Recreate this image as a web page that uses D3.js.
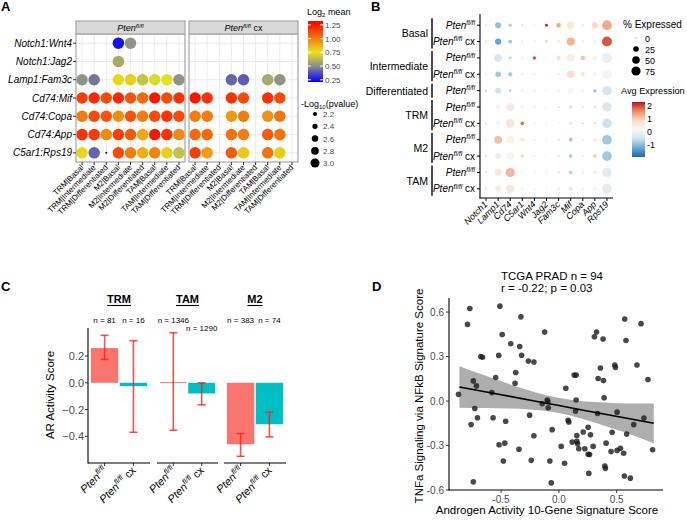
<!DOCTYPE html>
<meta charset='utf-8'>
<head>
  <title>Ligand-receptor and AR activity</title>
</head>

<style>
body {
  margin: 0;
  background: #fff;
  font-family: "Liberation Sans", Arial, Helvetica, sans-serif;
}
text {
  fill: #000;
}
.tick-label {
  fill: #4d4d4d;
}
.panel-label {
  font-weight: bold;
  font-size: 13px;
}
</style>

<body>
  <svg width='687' height='520'></svg>

  <script src='https://cdn.jsdelivr.net/npm/d3@7'></script>
  <script>
// ---------- panel A data ----------
var pairsA = ['Notch1:Wnt4', 'Notch1:Jag2', 'Lamp1:Fam3c', 'Cd74:Mif', 'Cd74:Copa', 'Cd74:App', 'C5ar1:Rps19'];
var clustersA = ['TRM|Basal', 'TRM|Intermediate', 'TRM|Differentiated', 'M2|Basal', 'M2|Intermediate',
  'M2|Differentiated', 'TAM|Basal', 'TAM|Intermediate', 'TAM|Differentiated'];
// log2 mean, Pten fl/fl
var meanFl = [
  [null, null, null, 0.25, 0.52, null, null, null, null],
  [null, null, null, 0.58, null, null, null, null, null],
  [0.52, 0.45, null, 0.78, 0.8, 0.66, 0.72, 0.74, 0.52],
  [1.15, 1.2, 1.12, 1.2, 1.1, 1.05, 1.24, 1.12, 1.18],
  [1.0, 1.12, 1.1, 0.96, 1.1, 1.0, 1.12, 1.18, 1.12],
  [1.18, 1.16, 0.97, 1.15, 1.08, 0.9, 1.24, 1.18, 0.97],
  [0.78, 0.42, 0.25, 1.12, 1.0, 0.88, 0.98, 0.8, 0.65]
];
// log2 mean, Pten fl/fl cx
var meanCx = [
  [null, null, null, null, null, null, null, null, null],
  [null, null, null, null, null, null, null, null, null],
  [null, null, null, 0.42, 0.4, null, 0.58, 0.52, null],
  [1.25, 1.18, null, 1.18, 1.12, null, 1.18, 1.12, null],
  [1.0, 1.0, null, 0.93, 1.0, null, 0.95, 1.02, null],
  [1.05, 1.05, null, 1.02, 1.0, null, 1.08, 1.02, null],
  [1.15, 0.92, null, 1.08, 0.82, null, 1.02, 0.8, null]
];
// -log10(pvalue)
var pvalFl = [
  [null, null, null, 3.4, 3.4, null, null, null, null],
  [null, null, null, 3.4, null, null, null, null, null],
  [3.4, 3.4, null, 3.4, 3.4, 3.4, 3.4, 3.4, 3.4],
  [3.4, 3.4, 3.4, 3.4, 3.4, 3.4, 3.4, 3.4, 3.4],
  [3.4, 3.4, 3.4, 3.4, 3.4, 3.4, 3.4, 3.4, 3.4],
  [3.4, 3.4, 3.4, 3.4, 3.4, 3.4, 3.4, 3.4, 3.4],
  [3.4, 3.4, 1.9, 3.4, 3.4, 3.4, 3.4, 3.4, 3.4]
];
var pvalCx = [
  [null, null, null, null, null, null, null, null, null],
  [null, null, null, null, null, null, null, null, null],
  [null, null, null, 3.4, 3.4, null, 3.4, 3.4, null],
  [3.4, 3.4, null, 3.4, 3.4, null, 3.4, 3.4, null],
  [3.4, 3.4, null, 3.4, 3.4, null, 3.4, 3.4, null],
  [3.4, 3.4, null, 3.4, 3.4, null, 3.4, 3.4, null],
  [3.4, 3.4, null, 3.4, 3.4, null, 3.4, 3.4, null]
];
var meanTicks = [0.25, 0.5, 0.75, 1.0, 1.25];
var pvalTicks = [2.2, 2.4, 2.6, 2.8, 3.0];

// ---------- panel B data ----------
var genesB = ['Notch1', 'Lamp1', 'Cd74', 'C5ar1', 'Wnt4', 'Jag2', 'Fam3c', 'Mif', 'Copa', 'App', 'Rps19'];
var rowsB = ['Basal|fl', 'Basal|cx', 'Intermediate|fl', 'Intermediate|cx', 'Differentiated|fl',
  'TRM|fl', 'TRM|cx', 'M2|fl', 'M2|cx', 'TAM|fl', 'TAM|cx'];
var pctB = [
  [3, 30, 8, 3, 2, 5, 15, 50, 5, 30, 88],
  [3, 32, 10, 2, 3, 3, 8, 60, 3, 15, 92],
  [2, 48, 5, 2, 8, 2, 12, 50, 15, 22, 88],
  [2, 25, 15, 2, 3, 2, 3, 50, 10, 14, 85],
  [2, 28, 5, 2, 2, 2, 2, 28, 5, 8, 80],
  [2, 20, 65, 3, 2, 2, 3, 8, 3, 3, 80],
  [2, 15, 65, 10, 2, 2, 2, 10, 3, 3, 80],
  [3, 55, 50, 12, 2, 2, 3, 10, 3, 10, 85],
  [3, 30, 55, 10, 2, 2, 3, 10, 3, 10, 85],
  [2, 35, 75, 3, 2, 2, 3, 12, 3, 5, 82],
  [2, 30, 65, 8, 2, 2, 3, 15, 3, 5, 82]
];
var expB = [
  [0.5, -1.0, -0.8, -0.3, 0.1, 2.2, 1.3, 0.6, -0.3, 0.9, 1.3],
  [0.8, -1.3, -0.9, -0.2, 0.4, 1.0, 0.4, 1.2, -0.2, 0.1, 1.9],
  [0.1, -0.5, -0.7, -0.2, 1.9, 0.1, 0.8, 0.4, 1.1, 0.3, -0.2],
  [-0.3, -0.9, -0.8, -0.3, 0.2, 0.1, 0.2, 0.8, 0.7, 0.2, 0.05],
  [-0.7, -0.6, -0.7, -0.2, -0.1, 0.0, 0.0, 0.2, 0.1, -0.9, -0.5],
  [0.1, 0.3, 0.5, -0.1, -0.2, -0.1, -0.5, -0.5, -0.3, -0.5, -0.4],
  [-0.6, 0.05, 0.6, 1.7, -0.1, 0.0, -0.1, -0.3, -0.5, -0.6, -0.6],
  [0.4, 1.1, 0.3, 0.6, -0.1, 0.0, -0.4, -0.9, -0.2, 0.4, -0.9],
  [0.9, 0.5, 0.05, 0.9, -0.1, 0.1, -0.4, -0.8, 0.3, 1.0, -0.9],
  [-0.4, 0.6, 1.2, 0.1, -0.1, -0.1, -0.4, -0.7, -0.2, -0.3, -0.3],
  [-0.4, 0.5, 0.6, 0.3, -0.1, -0.1, -0.4, -0.3, -0.2, -0.1, -0.3]
];
var pctTicks = [0, 25, 50, 75];
var expTicks = [-1, 0, 1, 2];

// ---------- panel C data ----------
var cellsC = ['TRM', 'TAM', 'M2'];
var genoC = ['fl', 'cx'];
var meanC = [[0.26, -0.025], [0.005, -0.08], [-0.46, -0.31]];
var loC = [[0.175, -0.37], [-0.355, -0.165], [-0.55, -0.405]];
var hiC = [[0.355, 0.315], [0.375, 0.0], [-0.38, -0.22]];
var nC = [[81, 16], [1346, 1290], [383, 74]];
var ticksC = [-0.4, -0.2, 0.0, 0.2];

// ---------- panel D data ----------
var xD = [-0.77, -0.79, -0.51, -0.49, -0.52, -0.675, -0.66, -0.546, -0.74, -0.713, -0.868, -0.58, -0.727, -0.704,
  -0.569, -0.759, -0.46, -0.517, -0.468, -0.48, -0.74, -0.416,
  -0.328, -0.339, -0.322, -0.264, -0.216, -0.373, -0.379, -0.123, -0.253, -0.144, -0.101, -0.095, -0.092,
  -0.058, -0.216, -0.345, -0.239, -0.078, -0.066,
  0.02, 0.049, 0.06, 0.08, 0.086, 0.132, 0.149, 0.149, 0.144, 0.155, 0.115, 0.155, 0.161, 0.172, 0.21, 0.253,
  0.273, 0.224, 0.253, 0.265, 0.296, 0.259, 0.325, 0.307, 0.382, 0.359, 0.339, 0.385, 0.391, 0.334, 0.408,
  0.397, 0.402, 0.483, 0.489, 0.503, 0.46, 0.451, 0.503, 0.532, 0.56, 0.586, 0.569, 0.58, 0.71, 0.675, 0.77,
  0.647, 0.735, 0.81, 0.566, 0.618];
var yD = [0.624, 0.517, 0.64, 0.449, 0.308, 0.30, 0.295, 0.159, 0.136, 0.102, 0.045, 0.057, -0.05, -0.113,
  -0.113, -0.159, -0.136, -0.295, -0.284, -0.404, -0.545, 0.386,
  0.568, 0.368, 0.309, 0.27, 0.263, 0.193, 0.12, 0.466, -0.095, -0.018, 0.007, -0.005, -0.045,
  -0.193, -0.234, -0.325, -0.40, -0.404, -0.552,
  -0.306, -0.42, 0.086, -0.13, -0.141, 0.175, 0.175, 0.007, -0.068, -0.232, -0.277, -0.272, -0.288, -0.322,
  -0.209, -0.177, -0.227, -0.322, -0.359, -0.361, -0.306, -0.488, 0.466, 0.434, 0.418, 0.223, 0.152, 0.138,
  0.022, -0.084, -0.284, -0.438, -0.454, 0.243, 0.227, -0.075, -0.211, -0.34, -0.333, -0.318, -0.352, -0.223,
  0.553, 0.408, 0.522, 0.243, 0.145, -0.159, -0.114, -0.329, -0.506, -0.52];
// linear fit and its confidence band
var fitX = [-0.86, -0.65, -0.4, -0.2, 0, 0.2, 0.4, 0.6, 0.82];
var fitY = [0.095, 0.064, 0.028, -0.001, -0.030, -0.060, -0.089, -0.118, -0.150];
var fitLo = [-0.045, -0.047, -0.051, -0.060, -0.080, -0.119, -0.168, -0.219, -0.284];
var fitHi = [0.235, 0.175, 0.107, 0.058, 0.020, -0.001, -0.010, -0.017, -0.016];
var xTicksD = [-0.5, 0, 0.5];
var yTicksD = [-0.6, -0.3, 0, 0.3, 0.6];

var svg = d3.select('svg');
var defs = svg.append('defs');

// "Pten fl/fl" with superscript, optional " cx"
function pten(t, cx, size) {
  t.append('tspan').attr('font-style', 'italic').text('Pten');
  t.append('tspan').attr('font-style', 'italic').attr('font-size', size * 0.68)
    .attr('dy', -size * 0.38).text('fl/fl');
  if (cx) t.append('tspan').attr('dy', size * 0.38).text(' cx');
}

function panelLabel(x, y, s) {
  svg.append('text').attr('class', 'panel-label').attr('x', x).attr('y', y).text(s);
}

// ================= Panel A =================
panelLabel(1, 11, 'A');
var gA = svg.append('g');
var yA = d3.scalePoint().domain(pairsA).range([34, 162]).padding(0.5);
var colA = d3.scaleLinear().domain([0.21, 0.5, 0.75, 1.3])
  .range(['#0000ff', '#8c8c8c', '#e8e41c', '#ff0000']).clamp(true);
var rA = d3.scaleLinear().domain([2.2, 3.0]).range([2, 4.5]);

var facetsA = [
  {cx: false, mean: meanFl, pval: pvalFl, x0: 76, x1: 185},
  {cx: true, mean: meanCx, pval: pvalCx, x0: 189, x1: 298}
];

facetsA.forEach(function(f) {
  var xA = d3.scalePoint().domain(clustersA).range([f.x0, f.x1]).padding(0.5);
  var g = gA.append('g');

  g.selectAll('.vg').data(clustersA).enter().append('line')
    .attr('x1', function(d) { return xA(d); }).attr('x2', function(d) { return xA(d); })
    .attr('y1', 34).attr('y2', 162).attr('stroke', '#ebebeb');
  g.selectAll('.hg').data(pairsA).enter().append('line')
    .attr('x1', f.x0).attr('x2', f.x1)
    .attr('y1', function(d) { return yA(d); }).attr('y2', function(d) { return yA(d); })
    .attr('stroke', '#ebebeb');

  var cells = [];
  pairsA.forEach(function(p, i) {
    clustersA.forEach(function(c, j) {
      if (f.mean[i][j] !== null) cells.push({p: p, c: c, m: f.mean[i][j], v: f.pval[i][j]});
    });
  });
  g.selectAll('circle').data(cells).enter().append('circle')
    .attr('cx', function(d) { return xA(d.c); })
    .attr('cy', function(d) { return yA(d.p); })
    .attr('r', function(d) { return rA(d.v); })
    .attr('fill', function(d) { return colA(d.m); });

  g.append('rect').attr('x', f.x0).attr('y', 34).attr('width', f.x1 - f.x0).attr('height', 128)
    .attr('fill', 'none').attr('stroke', '#a6a6a6').attr('stroke-width', 1.2);
  g.append('rect').attr('x', f.x0).attr('y', 21).attr('width', f.x1 - f.x0).attr('height', 13)
    .attr('fill', '#d9d9d9').attr('stroke', '#a6a6a6').attr('stroke-width', 1.2);
  pten(g.append('text').attr('x', (f.x0 + f.x1) / 2).attr('y', 31).attr('text-anchor', 'middle')
    .attr('font-size', 9), f.cx, 9);

  // x ticks and rotated labels
  g.selectAll('.xt').data(clustersA).enter().append('line')
    .attr('x1', function(d) { return xA(d); }).attr('x2', function(d) { return xA(d); })
    .attr('y1', 162).attr('y2', 165).attr('stroke', '#333');
  g.selectAll('.xl').data(clustersA).enter().append('text')
    .attr('transform', function(d) { return 'translate(' + (xA(d) + 2) + ',168) rotate(-45)'; })
    .attr('text-anchor', 'end').attr('font-size', 8).attr('fill', '#333')
    .text(function(d) { return d; });
});

gA.selectAll('.yt').data(pairsA).enter().append('line')
  .attr('x1', 73).attr('x2', 76)
  .attr('y1', function(d) { return yA(d); }).attr('y2', function(d) { return yA(d); })
  .attr('stroke', '#333');
gA.selectAll('.yl').data(pairsA).enter().append('text')
  .attr('x', 72).attr('y', function(d) { return yA(d) + 3.5; })
  .attr('text-anchor', 'end').attr('font-size', 10).attr('font-style', 'italic')
  .text(function(d) { return d; });

// legend A: colour bar
var barA = d3.scaleLinear().domain([0.21, 1.32]).range([82, 21]);
var gradA = defs.append('linearGradient').attr('id', 'gradA')
  .attr('x1', 0).attr('y1', 1).attr('x2', 0).attr('y2', 0);
d3.range(0, 1.0001, 0.05).forEach(function(t) {
  gradA.append('stop').attr('offset', t).attr('stop-color', colA(0.21 + t * 1.11));
});
var legA = svg.append('g');
var tA = legA.append('text').attr('x', 307).attr('y', 15).attr('font-size', 9);
tA.append('tspan').text('Log');
tA.append('tspan').attr('font-size', 6).attr('dy', 2).text('2');
tA.append('tspan').attr('dy', -2).text(' mean');
legA.append('rect').attr('x', 308).attr('y', 21).attr('width', 15).attr('height', 61)
  .attr('fill', 'url(#gradA)');
legA.selectAll('.ct').data(meanTicks).enter().append('line')
  .attr('x1', 308).attr('x2', 311).attr('y1', function(d) { return barA(d); })
  .attr('y2', function(d) { return barA(d); }).attr('stroke', '#fff');
legA.selectAll('.ct2').data(meanTicks).enter().append('line')
  .attr('x1', 320).attr('x2', 323).attr('y1', function(d) { return barA(d); })
  .attr('y2', function(d) { return barA(d); }).attr('stroke', '#fff');
legA.selectAll('.cl').data(meanTicks).enter().append('text')
  .attr('x', 325).attr('y', function(d) { return barA(d) + 3; })
  .attr('font-size', 8).attr('class', 'tick-label')
  .text(function(d) { return d3.format('.2f')(d); });

// legend A: size
var tP = legA.append('text').attr('x', 301).attr('y', 107).attr('font-size', 9);
tP.append('tspan').text('-Log');
tP.append('tspan').attr('font-size', 6).attr('dy', 2).text('10');
tP.append('tspan').attr('dy', -2).text('(pvalue)');
var sizeY = d3.scalePoint().domain(pvalTicks).range([114, 163]);
legA.selectAll('.sc').data(pvalTicks).enter().append('circle')
  .attr('cx', 315).attr('cy', function(d) { return sizeY(d); })
  .attr('r', function(d) { return rA(d); }).attr('fill', '#000');
legA.selectAll('.sl').data(pvalTicks).enter().append('text')
  .attr('x', 323).attr('y', function(d) { return sizeY(d) + 3; })
  .attr('font-size', 8).attr('class', 'tick-label')
  .text(function(d) { return d3.format('.1f')(d); });

// ================= Panel B =================
panelLabel(371, 11, 'B');
var gB = svg.append('g');
var xB = d3.scalePoint().domain(genesB).range([480, 613]).padding(0.5);
var yB = d3.scalePoint().domain(rowsB).range([17, 197]).padding(0.5);
var rB = d3.scaleSqrt().domain([0, 100]).range([0.4, 5.2]);
var rdbu = ['#2166ac', '#67a9cf', '#d1e5f0', '#f7f7f7', '#fddbc7', '#ef8a62', '#b2182b'];
var expLo = -2.0, expHi = 2.3;
var colB = d3.scaleLinear()
  .domain(rdbu.map(function(c, i) { return expLo + i * (expHi - expLo) / (rdbu.length - 1); }))
  .range(rdbu).clamp(true);

var cellsB = [];
rowsB.forEach(function(r, i) {
  genesB.forEach(function(gn, j) {
    cellsB.push({r: r, g: gn, p: pctB[i][j], e: expB[i][j]});
  });
});
gB.selectAll('circle').data(cellsB).enter().append('circle')
  .attr('cx', function(d) { return xB(d.g); })
  .attr('cy', function(d) { return yB(d.r); })
  .attr('r', function(d) { return rB(d.p); })
  .attr('fill', function(d) { return colB(d.e); });

gB.append('line').attr('x1', 480).attr('x2', 480).attr('y1', 14).attr('y2', 198.5)
  .attr('stroke', '#000').attr('stroke-width', 1.1);
gB.append('line').attr('x1', 479.5).attr('x2', 613).attr('y1', 198).attr('y2', 198)
  .attr('stroke', '#000').attr('stroke-width', 1.1);
gB.selectAll('.yt').data(rowsB).enter().append('line')
  .attr('x1', 477).attr('x2', 480)
  .attr('y1', function(d) { return yB(d); }).attr('y2', function(d) { return yB(d); })
  .attr('stroke', '#000');
gB.selectAll('.xt').data(genesB).enter().append('line')
  .attr('x1', function(d) { return xB(d); }).attr('x2', function(d) { return xB(d); })
  .attr('y1', 198).attr('y2', 201).attr('stroke', '#000');
gB.selectAll('.yl').data(rowsB).enter().append('text')
  .attr('x', 475).attr('y', function(d) { return yB(d) + 3.5; })
  .attr('text-anchor', 'end').attr('font-size', 10)
  .each(function(d) { pten(d3.select(this), d.split('|')[1] === 'cx', 10); });
gB.selectAll('.xl').data(genesB).enter().append('text')
  .attr('transform', function(d) { return 'translate(' + (xB(d) + 2) + ',205) rotate(-45)'; })
  .attr('text-anchor', 'end').attr('font-size', 9).attr('font-style', 'italic')
  .text(function(d) { return d; });

// group brackets
var groupsB = [];
rowsB.forEach(function(r) {
  var gname = r.split('|')[0];
  var last = groupsB[groupsB.length - 1];
  if (last && last.name === gname) last.rows.push(r);
  else groupsB.push({name: gname, rows: [r]});
});
groupsB.forEach(function(gr) {
  var y0 = yB(gr.rows[0]) - 7, y1 = yB(gr.rows[gr.rows.length - 1]) + 7;
  gB.append('line').attr('x1', 432).attr('x2', 432).attr('y1', y0).attr('y2', y1)
    .attr('stroke', '#000').attr('stroke-width', 1.4);
  gB.append('text').attr('x', 428).attr('y', (y0 + y1) / 2 + 4)
    .attr('text-anchor', 'end').attr('font-size', 10.5).text(gr.name);
});

// legend B
var legB = svg.append('g');
legB.append('text').attr('x', 623).attr('y', 28).attr('font-size', 10).text('% Expressed');
var pctY = d3.scalePoint().domain(pctTicks).range([38, 71]);
legB.selectAll('.sc').data(pctTicks).enter().append('circle')
  .attr('cx', 636).attr('cy', function(d) { return pctY(d); })
  .attr('r', function(d) { return rB(d); }).attr('fill', '#000');
legB.selectAll('.sl').data(pctTicks).enter().append('text')
  .attr('x', 645).attr('y', function(d) { return pctY(d) + 3.5; })
  .attr('font-size', 9).text(function(d) { return d; });

legB.append('text').attr('x', 621).attr('y', 94).attr('font-size', 9.2).text('Avg Expression');
var barB = d3.scaleLinear().domain([expLo, expHi]).range([157, 102]);
var gradB = defs.append('linearGradient').attr('id', 'gradB')
  .attr('x1', 0).attr('y1', 1).attr('x2', 0).attr('y2', 0);
d3.range(0, 1.0001, 0.05).forEach(function(t) {
  gradB.append('stop').attr('offset', t).attr('stop-color', colB(expLo + t * (expHi - expLo)));
});
legB.append('rect').attr('x', 632).attr('y', 102).attr('width', 13).attr('height', 55)
  .attr('fill', 'url(#gradB)');
legB.selectAll('.cl').data(expTicks).enter().append('text')
  .attr('x', 647).attr('y', function(d) { return barB(d) + 3.5; })
  .attr('font-size', 9).text(function(d) { return d; });

// ================= Panel C =================
panelLabel(1, 291, 'C');
var gC = svg.append('g');
var yC = d3.scaleLinear().domain([-0.6, 0.41]).range([463, 328]);
var facetC = [[88, 150], [157, 218], [224, 286]];
var fillC = {fl: '#F8766D', cx: '#00BFC4'};

gC.append('line').attr('x1', 88).attr('x2', 88).attr('y1', 328).attr('y2', 463.5)
  .attr('stroke', '#000').attr('stroke-width', 1.1);
gC.selectAll('.yt').data(ticksC).enter().append('line')
  .attr('x1', 85).attr('x2', 88)
  .attr('y1', function(d) { return yC(d); }).attr('y2', function(d) { return yC(d); })
  .attr('stroke', '#333');
gC.selectAll('.yl').data(ticksC).enter().append('text')
  .attr('x', 84).attr('y', function(d) { return yC(d) + 4; })
  .attr('text-anchor', 'end').attr('font-size', 11).attr('class', 'tick-label')
  .text(function(d) { return d3.format('.1f')(d); });
gC.append('text').attr('transform', 'translate(54,395) rotate(-90)')
  .attr('text-anchor', 'middle').attr('font-size', 11.5).text('AR Activity Score');

var prevRight = -1e9;
cellsC.forEach(function(cell, i) {
  var x0 = facetC[i][0], x1 = facetC[i][1];
  var xC = d3.scaleBand().domain(genoC).range([x0, x1]).paddingInner(0.05).paddingOuter(0.1);
  var g = gC.append('g');

  var title = g.append('text').attr('x', (x0 + x1) / 2).attr('y', 303)
    .attr('text-anchor', 'middle').attr('font-size', 11).attr('font-weight', 'bold').text(cell);
  var tw = title.node().getComputedTextLength();
  g.append('line').attr('x1', (x0 + x1) / 2 - tw / 2).attr('x2', (x0 + x1) / 2 + tw / 2)
    .attr('y1', 305.5).attr('y2', 305.5).attr('stroke', '#000').attr('stroke-width', 1.1);

  genoC.forEach(function(gt, k) {
    var m = meanC[i][k];
    var bx = xC(gt), bw = xC.bandwidth(), cx = bx + bw / 2;
    g.append('rect').attr('x', bx).attr('width', bw)
      .attr('y', Math.min(yC(m), yC(0)))
      .attr('height', Math.max(1, Math.abs(yC(m) - yC(0))))
      .attr('fill', fillC[gt]);
    g.append('line').attr('x1', cx).attr('x2', cx).attr('y1', yC(loC[i][k])).attr('y2', yC(hiC[i][k]))
      .attr('stroke', '#ff1a1a').attr('stroke-opacity', 0.8).attr('stroke-width', 1.5);
    [loC[i][k], hiC[i][k]].forEach(function(v) {
      g.append('line').attr('x1', cx - 4).attr('x2', cx + 4).attr('y1', yC(v)).attr('y2', yC(v))
        .attr('stroke', '#ff1a1a').attr('stroke-opacity', 0.8).attr('stroke-width', 1.5);
    });

    var lab = g.append('text').attr('x', cx).attr('y', 323).attr('text-anchor', 'middle')
      .attr('font-size', 8).attr('fill', '#333').text('n = ' + nC[i][k]);
    var w = lab.node().getComputedTextLength();
    if (cx - w / 2 < prevRight + 1) lab.attr('y', 331);
    prevRight = cx + w / 2;

    g.append('line').attr('x1', cx).attr('x2', cx).attr('y1', 463).attr('y2', 466)
      .attr('stroke', '#333');
    pten(g.append('text').attr('transform', 'translate(' + (cx + 3) + ',471) rotate(-45)')
      .attr('text-anchor', 'end').attr('font-size', 11), gt === 'cx', 11);
  });

  g.append('line').attr('x1', x0).attr('x2', x1).attr('y1', 463).attr('y2', 463)
    .attr('stroke', '#000').attr('stroke-width', 1.1);
});

// ================= Panel D =================
panelLabel(372, 291, 'D');
var gD = svg.append('g');
var xDs = d3.scaleLinear().domain([-0.95, 0.9]).range([449, 663]);
var yDs = d3.scaleLinear().domain([-0.6, 0.695]).range([490, 298]);

gD.append('text').attr('x', 501).attr('y', 280).attr('font-size', 11.5).text('TCGA PRAD n = 94');
gD.append('text').attr('x', 501).attr('y', 292).attr('font-size', 11.5).text('r = -0.22; p = 0.03');

var band = fitX.map(function(x, i) { return {x: x, lo: fitLo[i], hi: fitHi[i], y: fitY[i]}; });
gD.append('path').datum(band)
  .attr('d', d3.area().curve(d3.curveMonotoneX)
    .x(function(d) { return xDs(d.x); })
    .y0(function(d) { return yDs(d.lo); })
    .y1(function(d) { return yDs(d.hi); }))
  .attr('fill', '#8c8c8c').attr('fill-opacity', 0.7);

var pts = xD.map(function(x, i) { return [x, yD[i]]; });
gD.selectAll('circle').data(pts).enter().append('circle')
  .attr('cx', function(d) { return xDs(d[0]); })
  .attr('cy', function(d) { return yDs(d[1]); })
  .attr('r', 2.8).attr('fill', '#1a1a1a').attr('fill-opacity', 0.8);

gD.append('path').datum(band)
  .attr('d', d3.line().x(function(d) { return xDs(d.x); }).y(function(d) { return yDs(d.y); }))
  .attr('fill', 'none').attr('stroke', '#000').attr('stroke-width', 1.6);

gD.append('line').attr('x1', 449).attr('x2', 449).attr('y1', 298).attr('y2', 490.5)
  .attr('stroke', '#000').attr('stroke-width', 1.1);
gD.append('line').attr('x1', 448.5).attr('x2', 663).attr('y1', 490).attr('y2', 490)
  .attr('stroke', '#000').attr('stroke-width', 1.1);
gD.selectAll('.yt').data(yTicksD).enter().append('line')
  .attr('x1', 446).attr('x2', 449)
  .attr('y1', function(d) { return yDs(d); }).attr('y2', function(d) { return yDs(d); })
  .attr('stroke', '#333');
gD.selectAll('.yl').data(yTicksD).enter().append('text')
  .attr('x', 444).attr('y', function(d) { return yDs(d) + 3.5; })
  .attr('text-anchor', 'end').attr('font-size', 10).attr('class', 'tick-label')
  .text(function(d) { return d3.format('.1f')(d).replace('−', '-'); });
gD.selectAll('.xt').data(xTicksD).enter().append('line')
  .attr('x1', function(d) { return xDs(d); }).attr('x2', function(d) { return xDs(d); })
  .attr('y1', 490).attr('y2', 493).attr('stroke', '#333');
gD.selectAll('.xl').data(xTicksD).enter().append('text')
  .attr('x', function(d) { return xDs(d); }).attr('y', 503)
  .attr('text-anchor', 'middle').attr('font-size', 10).attr('class', 'tick-label')
  .text(function(d) { return d3.format('.1f')(d).replace('−', '-'); });

gD.append('text').attr('x', 547).attr('y', 514).attr('text-anchor', 'middle').attr('font-size', 11.5)
  .text('Androgen Activity 10-Gene Signature Score');
gD.append('text').attr('transform', 'translate(423,396) rotate(-90)').attr('text-anchor', 'middle')
  .attr('font-size', 11.5).text('TNFa Signaling via NFkB Signature Score');
  </script>
</body>
</html>
